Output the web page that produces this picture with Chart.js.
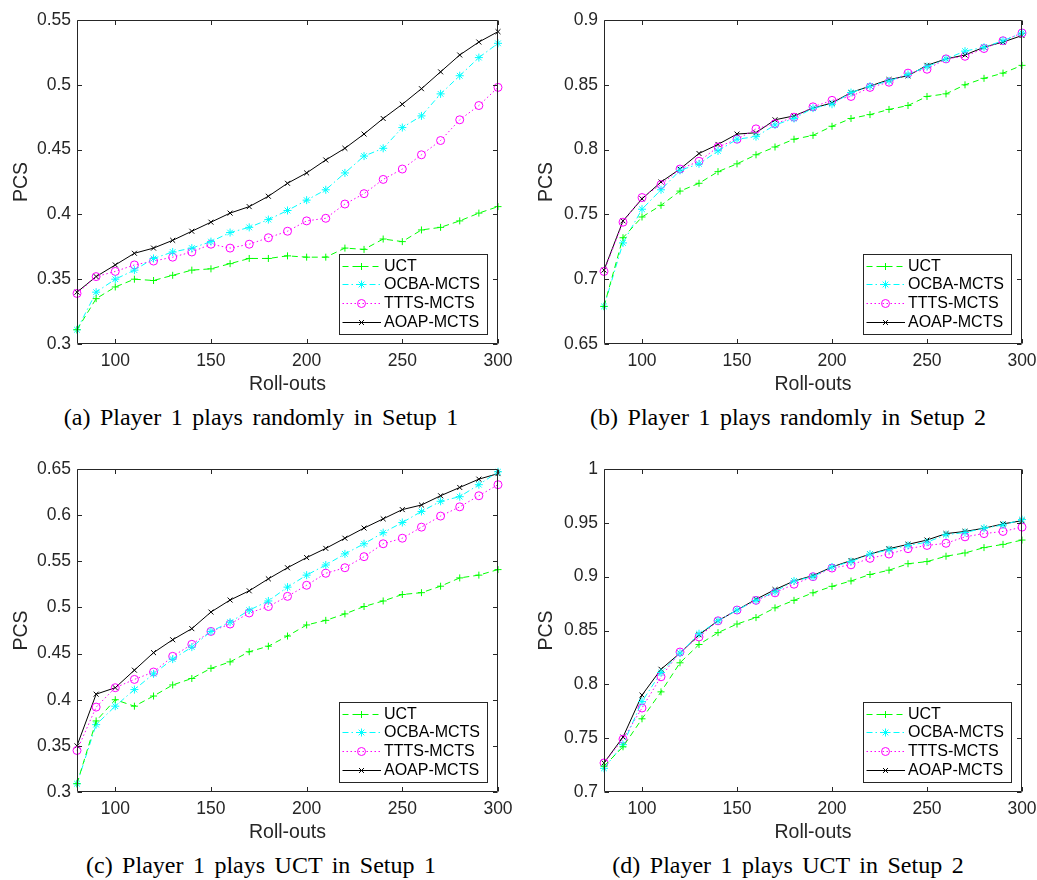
<!DOCTYPE html>
<html><head><meta charset="utf-8">
<script src="https://cdn.jsdelivr.net/npm/chart.js"></script>
<style>
html,body{margin:0;padding:0;background:#fff;}
body{width:1037px;height:880px;position:relative;overflow:hidden;}
canvas{position:absolute;}
.cap{position:absolute;font-family:"Liberation Serif","Times New Roman",serif;font-size:24px;line-height:24px;word-spacing:3.5px;text-align:center;color:#000;white-space:nowrap;width:522px;}
</style></head><body>
<canvas id="cA" width="520" height="400" style="left:0;top:0"></canvas>
<canvas id="cB" width="512" height="400" style="left:525px;top:0"></canvas>
<canvas id="cC" width="520" height="400" style="left:0;top:449px"></canvas>
<canvas id="cD" width="512" height="400" style="left:525px;top:449px"></canvas>
<div class="cap" style="left:0;top:405px">(a) Player 1 plays randomly in Setup 1</div>
<div class="cap" style="left:527px;top:405px">(b) Player 1 plays randomly in Setup 2</div>
<div class="cap" style="left:0;top:853px">(c) Player 1 plays UCT in Setup 1</div>
<div class="cap" style="left:527px;top:853px">(d) Player 1 plays UCT in Setup 2</div>
<script>
const rollouts = [80,90,100,110,120,130,140,150,160,170,180,190,200,210,220,230,240,250,260,270,280,290,300];
const seriesNames = ['UCT','OCBA-MCTS','TTTS-MCTS','AOAP-MCTS'];
const xTicks = [100,150,200,250,300];

// (a) Player 1 plays randomly in Setup 1
const uctA  = [0.311,0.335,0.344,0.350,0.349,0.353,0.357,0.358,0.362,0.366,0.366,0.368,0.367,0.367,0.374,0.373,0.381,0.379,0.388,0.390,0.395,0.401,0.406];
const ocbaA = [0.311,0.340,0.350,0.357,0.366,0.371,0.374,0.379,0.386,0.390,0.396,0.403,0.411,0.419,0.432,0.445,0.451,0.467,0.476,0.493,0.507,0.521,0.532];
const tttsA = [0.339,0.352,0.356,0.361,0.364,0.367,0.371,0.377,0.374,0.377,0.382,0.387,0.395,0.397,0.408,0.416,0.427,0.435,0.446,0.457,0.473,0.484,0.498];
const aoapA = [0.340,0.352,0.361,0.370,0.374,0.380,0.387,0.394,0.401,0.406,0.414,0.424,0.432,0.442,0.451,0.462,0.474,0.485,0.497,0.510,0.523,0.533,0.541];
const yTicksA = [0.3,0.35,0.4,0.45,0.5,0.55];

// (b) Player 1 plays randomly in Setup 2
const uctB  = [0.679,0.732,0.748,0.757,0.768,0.774,0.783,0.789,0.796,0.802,0.808,0.811,0.818,0.824,0.827,0.831,0.834,0.841,0.843,0.850,0.855,0.859,0.865];
const ocbaB = [0.679,0.728,0.754,0.769,0.784,0.789,0.799,0.808,0.810,0.819,0.824,0.832,0.835,0.844,0.849,0.853,0.858,0.864,0.870,0.876,0.879,0.884,0.890];
const tttsB = [0.706,0.744,0.763,0.773,0.785,0.791,0.802,0.808,0.816,0.820,0.825,0.833,0.838,0.841,0.848,0.852,0.859,0.862,0.870,0.872,0.878,0.884,0.890];
const aoapB = [0.707,0.745,0.762,0.775,0.785,0.797,0.804,0.812,0.813,0.823,0.826,0.832,0.836,0.844,0.849,0.854,0.857,0.865,0.870,0.873,0.879,0.883,0.888];
const yTicksB = [0.65,0.7,0.75,0.8,0.85,0.9];

// (c) Player 1 plays UCT in Setup 1
const uctC  = [0.309,0.377,0.400,0.393,0.404,0.416,0.423,0.434,0.441,0.452,0.458,0.469,0.481,0.486,0.493,0.501,0.507,0.514,0.516,0.523,0.532,0.535,0.541];
const ocbaC = [0.309,0.373,0.393,0.411,0.428,0.444,0.457,0.474,0.484,0.497,0.507,0.522,0.535,0.546,0.558,0.569,0.581,0.592,0.604,0.615,0.620,0.633,0.647];
const tttsC = [0.345,0.392,0.413,0.422,0.430,0.447,0.460,0.474,0.482,0.494,0.501,0.512,0.524,0.537,0.543,0.555,0.569,0.575,0.587,0.599,0.609,0.621,0.633];
const aoapC = [0.350,0.406,0.413,0.432,0.451,0.465,0.477,0.495,0.508,0.518,0.531,0.543,0.554,0.564,0.575,0.586,0.596,0.606,0.611,0.621,0.630,0.639,0.645];
const yTicksC = [0.3,0.35,0.4,0.45,0.5,0.55,0.6,0.65];

// (d) Player 1 plays UCT in Setup 2
const uctD  = [0.724,0.742,0.768,0.793,0.820,0.837,0.848,0.856,0.862,0.871,0.878,0.885,0.891,0.896,0.902,0.906,0.912,0.914,0.919,0.922,0.927,0.930,0.934];
const ocbaD = [0.722,0.744,0.784,0.811,0.829,0.847,0.859,0.869,0.878,0.886,0.896,0.900,0.909,0.914,0.921,0.925,0.929,0.932,0.939,0.941,0.945,0.948,0.953];
const tttsD = [0.727,0.749,0.778,0.807,0.830,0.844,0.859,0.869,0.878,0.885,0.893,0.900,0.908,0.911,0.917,0.921,0.926,0.929,0.931,0.937,0.940,0.942,0.946];
const aoapD = [0.727,0.751,0.790,0.814,0.829,0.846,0.859,0.869,0.879,0.888,0.896,0.901,0.909,0.915,0.921,0.926,0.930,0.934,0.940,0.942,0.945,0.949,0.952];
const yTicksD = [0.7,0.75,0.8,0.85,0.9,0.95,1];

const AXIS = '#262626';
const SANS = '"Liberation Sans", Arial, Helvetica, sans-serif';
const STYLES = [
  {color:'#00ff00', dash:[6,4], point:'cross', r:3.5},
  {color:'#00ffff', dash:[6,3,1.5,3], point:'star', r:4},
  {color:'#ff00ff', dash:[1.5,2.5], point:'circle', r:4},
  {color:'#000000', dash:[], point:'crossRot', r:3.5}
];

function fmt(v){ return String(Math.round(v*100)/100); }

function drawMarker(ctx, style, r, x, y){
  if (Chart.helpers && Chart.helpers.drawPoint) {
    Chart.helpers.drawPoint(ctx, {pointStyle:style, radius:r, rotation:0, borderWidth:1}, x, y);
    return;
  }
  ctx.beginPath();
  if (style==='circle') ctx.arc(x,y,r,0,Math.PI*2);
  ctx.stroke();
}

const boxPlugin = {
  id:'matlabBox',
  afterDraw(chart){
    const {ctx, chartArea:a} = chart;
    const xs = chart.scales.x, ys = chart.scales.y;
    ctx.save();
    ctx.strokeStyle = AXIS; ctx.lineWidth = 1; ctx.setLineDash([]);
    const L = Math.round(a.left)+0.5, R = Math.round(a.right)-0.5, T = Math.round(a.top)+0.5, B = Math.round(a.bottom)-0.5;
    ctx.beginPath();
    ctx.rect(L, T, R-L, B-T);
    xs.ticks.forEach(t=>{
      const px = Math.round(xs.getPixelForValue(t.value))+0.5;
      ctx.moveTo(px,B); ctx.lineTo(px,B-4.5);
      ctx.moveTo(px,T); ctx.lineTo(px,T+4.5);
    });
    ys.ticks.forEach(t=>{
      const py = Math.round(ys.getPixelForValue(t.value))+0.5;
      ctx.moveTo(L,py); ctx.lineTo(L+4.5,py);
      ctx.moveTo(R,py); ctx.lineTo(R-4.5,py);
    });
    ctx.stroke();

    // legend
    const W = 148, H = 80;
    const bx = Math.round(a.right - 11.5 - W), by = Math.round(a.bottom - 10.5 - H);
    ctx.fillStyle = '#ffffff';
    ctx.fillRect(bx, by, W, H);
    ctx.strokeStyle = AXIS;
    ctx.strokeRect(bx+0.5, by+0.5, W, H);
    ctx.font = '16px ' + SANS;
    ctx.textBaseline = 'middle';
    ctx.textAlign = 'left';
    chart.data.datasets.forEach((ds,i)=>{
      const yy = Math.round(by + 11.5 + i*18.9) + 0.5;
      ctx.strokeStyle = ds.borderColor;
      ctx.lineWidth = 1;
      ctx.setLineDash(ds.borderDash || []);
      ctx.beginPath(); ctx.moveTo(bx+3.5, yy); ctx.lineTo(bx+42, yy); ctx.stroke();
      ctx.setLineDash([]);
      ctx.fillStyle = 'rgba(0,0,0,0)';
      drawMarker(ctx, ds.pointStyle, ds.pointRadius, bx+22.5, yy);
      ctx.fillStyle = '#000';
      ctx.fillText(ds.label, bx+45, yy+0.5);
    });
    ctx.restore();
  }
};

function makeChart(id, series, yMin, yMax, yTicks, g){
  const datasets = series.map((vals,i)=>({
    label: seriesNames[i],
    data: rollouts.map((x,j)=>({x:x, y:vals[j]})),
    borderColor: STYLES[i].color,
    borderWidth: 1,
    borderDash: STYLES[i].dash,
    pointStyle: STYLES[i].point,
    pointRadius: STYLES[i].r,
    pointHoverRadius: STYLES[i].r,
    pointBorderWidth: 1,
    pointBorderColor: STYLES[i].color,
    pointBackgroundColor: 'rgba(0,0,0,0)',
    fill: false,
    tension: 0,
    clip: false
  }));
  const zeroPad = sc => { sc.paddingLeft = 0; sc.paddingRight = 0; sc.paddingTop = 0; sc.paddingBottom = 0; };
  return new Chart(document.getElementById(id), {
    type: 'line',
    data: {datasets: datasets},
    options: {
      responsive: false,
      animation: false,
      events: [],
      layout: {padding: {left: 0, top: g.top, right: g.right, bottom: g.bottom}},
      plugins: {legend: {display: false}, tooltip: {enabled: false}},
      scales: {
        x: {
          type: 'linear', min: 80, max: 300,
          afterBuildTicks: sc => { sc.ticks = xTicks.map(v=>({value:v})); },
          afterFit: sc => { sc.height = g.xh; zeroPad(sc); },
          grid: {display: false, drawTicks: false},
          border: {display: false},
          ticks: {color: AXIS, font: {family: SANS, size: 17.5}, padding: 6.5, maxRotation: 0, autoSkip: false, callback: v => fmt(v)},
          title: {display: true, text: 'Roll-outs', color: AXIS, font: {family: SANS, size: 19.5}, padding: {top: 0, bottom: 0}}
        },
        y: {
          type: 'linear', min: yMin, max: yMax,
          afterBuildTicks: sc => { sc.ticks = yTicks.map(v=>({value:v})); },
          afterFit: sc => { sc.width = g.yw; zeroPad(sc); },
          grid: {display: false, drawTicks: false},
          border: {display: false},
          ticks: {color: AXIS, font: {family: SANS, size: 17.5}, padding: 6, autoSkip: false, callback: v => fmt(v)},
          title: {display: true, text: 'PCS', color: AXIS, font: {family: SANS, size: 19.5}, padding: {top: 10, bottom: 0}}
        }
      }
    },
    plugins: [boxPlugin]
  });
}

makeChart('cA', [uctA, ocbaA, tttsA, aoapA], 0.3, 0.55, yTicksA, {top: 20, right: 22, bottom: 4, xh: 52, yw: 77});
makeChart('cB', [uctB, ocbaB, tttsB, aoapB], 0.65, 0.9, yTicksB, {top: 20, right: 15, bottom: 4, xh: 52, yw: 79});
makeChart('cC', [uctC, ocbaC, tttsC, aoapC], 0.3, 0.65, yTicksC, {top: 20, right: 22, bottom: 5, xh: 52, yw: 77});
makeChart('cD', [uctD, ocbaD, tttsD, aoapD], 0.7, 1, yTicksD, {top: 20, right: 15, bottom: 5, xh: 52, yw: 79});
</script>
</body></html>
